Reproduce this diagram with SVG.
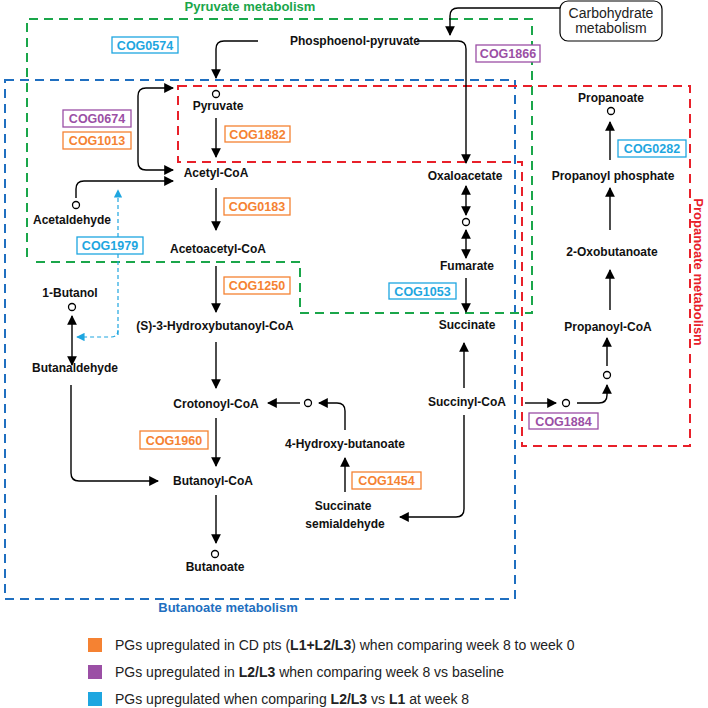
<svg xmlns="http://www.w3.org/2000/svg" width="708" height="708" viewBox="0 0 708 708">
<defs>
<marker id="ah" viewBox="0 0 10 10" refX="9" refY="5" markerWidth="7" markerHeight="7" orient="auto-start-reverse"><path d="M0,0 L10,5 L0,10 z" fill="#000"/></marker>
<marker id="ahc" viewBox="0 0 10 10" refX="9" refY="5" markerWidth="7" markerHeight="7" orient="auto"><path d="M0,0 L10,5 L0,10 z" fill="#1ea6e0"/></marker>
<style>
.n{font-family:"Liberation Sans",Arial,sans-serif;font-size:12px;font-weight:bold;fill:#111;text-anchor:middle}
.c{font-family:"Liberation Sans",Arial,sans-serif;font-size:12.5px;font-weight:bold;text-anchor:middle}
.l{font-family:"Liberation Sans",Arial,sans-serif;font-size:14px;fill:#222}
.t{font-family:"Liberation Sans",Arial,sans-serif;font-size:13px;font-weight:bold;text-anchor:middle}
.a{fill:none;stroke:#000;stroke-width:1.4;marker-end:url(#ah)}
.b{fill:none;stroke:#000;stroke-width:1.4;marker-end:url(#ah);marker-start:url(#ah)}
.ci{fill:#fff;stroke:#000;stroke-width:1.3}
.o rect,.p rect,.y rect{fill:#fff;stroke-width:1.3}
.o rect{stroke:#f58232}.o text{fill:#f58232}
.p rect{stroke:#9b4fa5}.p text{fill:#9b4fa5}
.y rect{stroke:#1ea6e0}.y text{fill:#1ea6e0}
.reg{fill:none;stroke-width:2;stroke-dasharray:9,6}
</style>
</defs>
<rect width="708" height="708" fill="#fff"/>
<g id="regions">
<path class="reg" stroke="#1f6fc0" d="M5,80 H515 V599 H5 Z"/>
<path class="reg" stroke="#1aa64a" d="M27,257 V19 H532 V313 H300 V262 H33"/>
<path class="reg" stroke="#e8202a" d="M178,86 H690 V446 H522 V162 H178 Z"/>
<text class="t" x="250" y="11" fill="#1aa64a">Pyruvate metabolism</text>
<text class="t" x="228" y="612" fill="#1f6fc0">Butanoate metabolism</text>
<text class="t" x="0" y="0" fill="#e8202a" transform="translate(694,272) rotate(90)">Propanoate metabolism</text>
</g>
<g id="connectors">
<path class="a" d="M560,8 H458 Q450,8 450,16 V35"/>
<path class="a" d="M258,41 H224 Q216,41 216,49 V78"/>
<path class="a" d="M417,41 H458 Q466,41 466,49 V163"/>
<path class="a" d="M216,118 V157"/>
<path class="b" d="M173,88 H146 Q138,88 138,96 V162 Q138,170 146,170 H173"/>
<path class="a" d="M76,198 V189 Q76,181 84,181 H173"/>
<path d="M118,335 V190" fill="none" stroke="#1ea6e0" stroke-width="1.2" stroke-dasharray="4,3" marker-end="url(#ahc)"/>
<path d="M118,330 Q118,337 111,337 H77" fill="none" stroke="#1ea6e0" stroke-width="1.2" stroke-dasharray="4,3" marker-end="url(#ahc)"/>
<path class="a" d="M216,188 V230"/>
<path class="a" d="M216,266 V312"/>
<path class="a" d="M216,342 V388"/>
<path class="a" d="M216,418 V466"/>
<path class="a" d="M216,495 V543"/>
<path class="b" d="M72,316 V365"/>
<path class="a" d="M71,385 V473 Q71,481 79,481 H158"/>
<path class="a" d="M300,403 H268"/>
<path class="a" d="M345,430 V411 Q345,403 337,403 H319"/>
<path class="a" d="M345,492 V458"/>
<path class="a" d="M464,415 V509 Q464,517 456,517 H400"/>
<path class="a" d="M464,388 V343"/>
<path class="b" d="M466,186 V215"/>
<path class="b" d="M466,230 V258"/>
<path class="a" d="M466,278 V312"/>
<path class="a" d="M525,403 H556"/>
<path class="a" d="M577,403 H599 Q607,403 607,395 V385"/>
<path class="a" d="M607,366 V338"/>
<path class="a" d="M610,310 V270"/>
<path class="a" d="M610,230 V188"/>
<path class="a" d="M610,160 V122"/>
</g>
<g id="intermediates">
<circle class="ci" cx="216" cy="94" r="3.5"/>
<circle class="ci" cx="76" cy="205" r="3.5"/>
<circle class="ci" cx="72" cy="307" r="3.5"/>
<circle class="ci" cx="215" cy="554" r="3.5"/>
<circle class="ci" cx="308" cy="403" r="3.5"/>
<circle class="ci" cx="466" cy="222" r="3.5"/>
<circle class="ci" cx="566" cy="403" r="3.5"/>
<circle class="ci" cx="607" cy="375" r="3.5"/>
<circle class="ci" cx="611" cy="111" r="3.5"/>
</g>
<g id="carbohydrate"><rect x="560" y="1" width="102" height="40" rx="8" fill="#fff" stroke="#000" stroke-width="1.2"/>
<text class="l" x="611" y="18" text-anchor="middle" font-size="12.5">Carbohydrate</text><text class="l" x="611" y="33" text-anchor="middle" font-size="12.5">metabolism</text></g>
<g id="metabolites">
<text class="n" x="355" y="45">Phosphoenol-pyruvate</text>
<text class="n" x="218" y="110">Pyruvate</text>
<text class="n" x="216" y="177">Acetyl-CoA</text>
<text class="n" x="72" y="224">Acetaldehyde</text>
<text class="n" x="218" y="253">Acetoacetyl-CoA</text>
<text class="n" x="70" y="297">1-Butanol</text>
<text class="n" x="215" y="330">(S)-3-Hydroxybutanoyl-CoA</text>
<text class="n" x="75" y="372">Butanaldehyde</text>
<text class="n" x="216" y="408">Crotonoyl-CoA</text>
<text class="n" x="213" y="485">Butanoyl-CoA</text>
<text class="n" x="215" y="571">Butanoate</text>
<text class="n" x="345" y="448">4-Hydroxy-butanoate</text>
<text class="n" x="343" y="510">Succinate</text>
<text class="n" x="345" y="528">semialdehyde</text>
<text class="n" x="465" y="180">Oxaloacetate</text>
<text class="n" x="467" y="270">Fumarate</text>
<text class="n" x="467" y="329">Succinate</text>
<text class="n" x="467" y="406">Succinyl-CoA</text>
<text class="n" x="611" y="102">Propanoate</text>
<text class="n" x="613" y="180">Propanoyl phosphate</text>
<text class="n" x="612" y="256">2-Oxobutanoate</text>
<text class="n" x="608" y="331">Propanoyl-CoA</text>
</g>
<g id="cog">
<g class="y"><rect x="112" y="37" width="66" height="16"/><text class="c" x="145" y="50">COG0574</text></g>
<g class="p"><rect x="476" y="45" width="64" height="17"/><text class="c" x="508" y="58">COG1866</text></g>
<g class="p"><rect x="63" y="110" width="68" height="17"/><text class="c" x="97" y="123">COG0674</text></g>
<g class="o"><rect x="63" y="132" width="68" height="17"/><text class="c" x="97" y="145">COG1013</text></g>
<g class="o"><rect x="225" y="126" width="65" height="16"/><text class="c" x="257.5" y="139">COG1882</text></g>
<g class="o"><rect x="224" y="198" width="66" height="17"/><text class="c" x="257" y="211">COG0183</text></g>
<g class="y"><rect x="77" y="237" width="66" height="17"/><text class="c" x="110" y="250">COG1979</text></g>
<g class="o"><rect x="224" y="277" width="66" height="17"/><text class="c" x="257" y="290">COG1250</text></g>
<g class="o"><rect x="140" y="431" width="68" height="18"/><text class="c" x="174" y="445">COG1960</text></g>
<g class="o"><rect x="352" y="472" width="69" height="17"/><text class="c" x="386.5" y="485">COG1454</text></g>
<g class="y"><rect x="389" y="283" width="67" height="16"/><text class="c" x="422.5" y="296">COG1053</text></g>
<g class="p"><rect x="529" y="413" width="69" height="16"/><text class="c" x="563.5" y="426">COG1884</text></g>
<g class="y"><rect x="618" y="140" width="68" height="17"/><text class="c" x="652" y="153">COG0282</text></g>
</g>
<g id="legend">
<rect x="88" y="638" width="14" height="14" fill="#f58232"/>
<rect x="88" y="665" width="14" height="14" fill="#9b4fa5"/>
<rect x="88" y="692" width="14" height="14" fill="#1ea6e0"/>
<text class="l" x="115" y="650">PGs upregulated in CD pts (<tspan font-weight="bold">L1+L2/L3</tspan>) when comparing week 8 to week 0</text>
<text class="l" x="115" y="677">PGs upregulated in <tspan font-weight="bold">L2/L3</tspan>  when comparing week 8 vs baseline</text>
<text class="l" x="115" y="704">PGs upregulated when comparing <tspan font-weight="bold">L2/L3</tspan> vs <tspan font-weight="bold">L1</tspan> at week 8</text>
</g>
</svg>
